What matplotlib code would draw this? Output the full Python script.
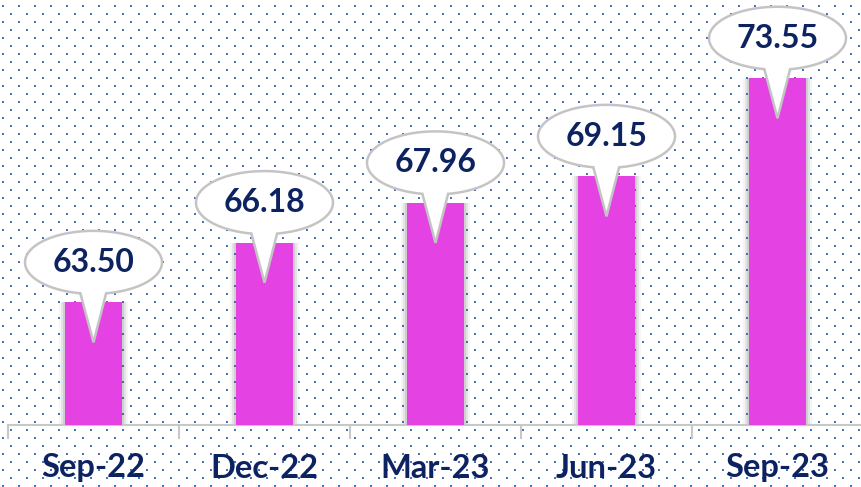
import numpy as np
import matplotlib.pyplot as plt
from matplotlib.patches import Polygon

categories = ['Sep-22', 'Dec-22', 'Mar-23', 'Jun-23', 'Sep-23']
values = [63.50, 66.18, 67.96, 69.15, 73.55]
labels = ['63.50', '66.18', '67.96', '69.15', '73.55']

W, H = 861, 487
fig = plt.figure(figsize=(W / 100, H / 100), dpi=100)

# dotted background, in pixel coords
bg = fig.add_axes([0, 0, 1, 1])
bg.set_xlim(0, W)
bg.set_ylim(H, 0)
bg.axis('off')
rows = np.arange(6, H, 8)
pts = []
for r, yy in enumerate(rows):
    off = 3 if r % 2 == 0 else 11
    for xx in np.arange(off, W, 16):
        pts.append((xx, yy))
pts = np.array(pts)
bg.scatter(pts[:, 0], pts[:, 1], s=2.6, marker='s', color='#4673c0', linewidths=0)

# main axes: x from 8px to 863px, y bottom at 425px
ax = fig.add_axes([8 / W, (H - 425) / H, 855 / W, 425 / H])
ax.patch.set_alpha(0)
ppu = 22.3  # pixels per value unit
ymin = 58.0
ax.set_xlim(-0.5, len(categories) - 0.5)
ax.set_ylim(ymin, ymin + 425 / ppu)

x = np.arange(len(categories))
# soft shadow behind bars
for w, a in [(0.40, 0.06), (0.38, 0.10), (0.36, 0.14)]:
    ax.bar(x, np.array(values) - ymin, bottom=ymin, width=w, color='#555555',
           alpha=a, zorder=2, linewidth=0)
ax.bar(x, np.array(values) - ymin, bottom=ymin, width=0.33, color='#e442e2',
       zorder=3, linewidth=0)

for s in ['top', 'right', 'left']:
    ax.spines[s].set_visible(False)
ax.spines['bottom'].set_color('#c8c8c8')
ax.spines['bottom'].set_linewidth(1.5)
ax.set_yticks([])
ax.set_xticks(np.arange(-0.5, len(categories), 1.0))
ax.set_xticklabels([])
ax.tick_params(axis='x', length=10, width=1.5, color='#c8c8c8')

navy = '#0d2361'
for i, c in enumerate(categories):
    ax.text(i, ymin - 43 / ppu, c, ha='center', va='center', fontsize=23.5,
            fontweight='bold', color=navy, family='Lato')

# callouts: ellipse with a pointer tail
cat_px = 171.0
rx = 68.5 / cat_px
ry = 31.5 / ppu
for i, v in enumerate(values):
    cx = i
    cy = v + 40 / ppu
    tip = (cx, v - 40 / ppu)
    hb = 12.5 / cat_px
    t = np.linspace(0, 2 * np.pi, 400)
    ex = cx + rx * np.cos(t)
    ey = cy + ry * np.sin(t)
    # keep ellipse points except the bottom arc between the tail base points
    keep = ~((np.abs(ex - cx) < hb) & (ey < cy))
    ang = np.arctan2((ey - cy) / ry, (ex - cx) / rx)
    ang = np.where(ang < -np.pi / 2, ang + 2 * np.pi, ang)
    order = np.argsort(ang)
    poly = [(ex[k], ey[k]) for k in order if keep[k]]
    poly = [tip] + poly
    ax.add_patch(Polygon(poly, closed=True, facecolor='white', edgecolor='#c4c4c4',
                         linewidth=1.8, zorder=5))
    ax.text(cx, cy, labels[i], ha='center', va='center', fontsize=23,
            fontweight='bold', color=navy, family='Lato', zorder=6)

fig.savefig('out.png', dpi=100)
